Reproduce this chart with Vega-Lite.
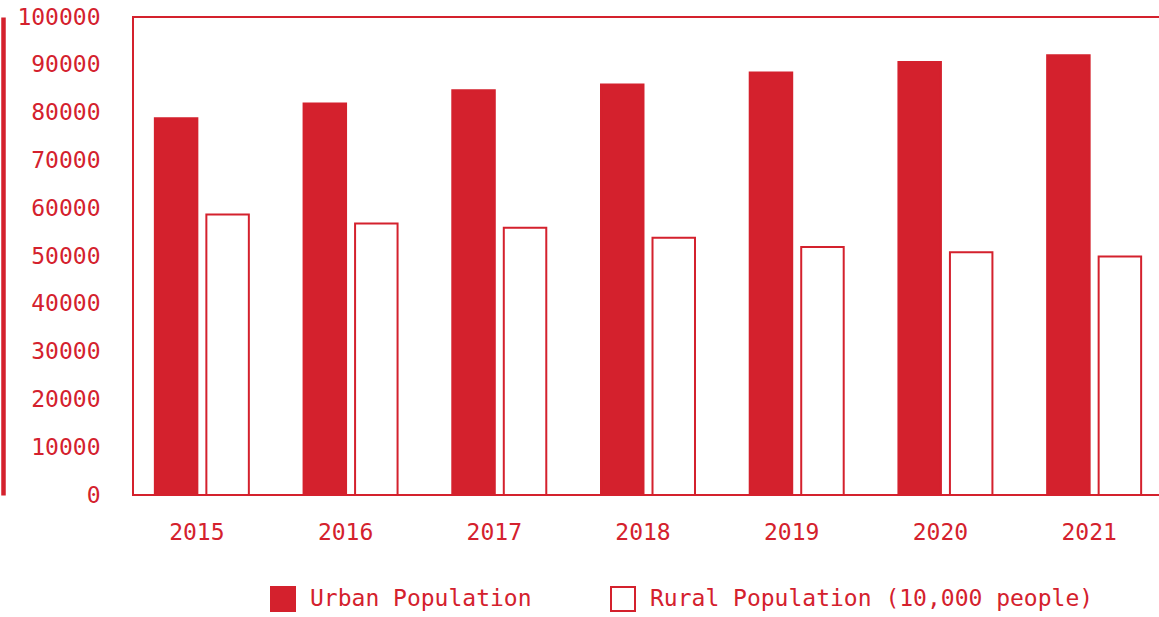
{
  "$schema": "https://vega.github.io/schema/vega-lite/v6.json",
  "width": 1030,
  "height": 478,
  "autosize": {"type": "none"},
  "padding": {"left": 133, "top": 17, "right": -4, "bottom": 122},
  "background": "#ffffff",
  "config": {
    "view": {"stroke": "#d4212d", "strokeWidth": 2},
    "font": "DejaVu Sans Mono"
  },
  "data": {
    "values": [
      {"year": "2015", "type": "Urban Population", "value": 78800},
      {"year": "2015", "type": "Rural Population (10,000 people)", "value": 58700},
      {"year": "2016", "type": "Urban Population", "value": 81900},
      {"year": "2016", "type": "Rural Population (10,000 people)", "value": 56800},
      {"year": "2017", "type": "Urban Population", "value": 84700},
      {"year": "2017", "type": "Rural Population (10,000 people)", "value": 55900},
      {"year": "2018", "type": "Urban Population", "value": 85900},
      {"year": "2018", "type": "Rural Population (10,000 people)", "value": 53800},
      {"year": "2019", "type": "Urban Population", "value": 88400},
      {"year": "2019", "type": "Rural Population (10,000 people)", "value": 51900},
      {"year": "2020", "type": "Urban Population", "value": 90600},
      {"year": "2020", "type": "Rural Population (10,000 people)", "value": 50800},
      {"year": "2021", "type": "Urban Population", "value": 92000},
      {"year": "2021", "type": "Rural Population (10,000 people)", "value": 49900}
    ]
  },
  "mark": {"type": "bar", "stroke": "#d4212d", "strokeWidth": 2},
  "encoding": {
    "x": {
      "field": "year",
      "type": "ordinal",
      "scale": {"paddingInner": 0.368, "paddingOuter": 0.147, "align": 0.5},
      "axis": {
        "title": null,
        "labelAngle": 0,
        "domain": false,
        "ticks": false,
        "tickSize": 0,
        "labelPadding": 26,
        "labelOffset": -5,
        "labelFont": "DejaVu Sans Mono",
        "labelFontSize": 23,
        "labelColor": "#d4212d"
      }
    },
    "xOffset": {
      "field": "type",
      "type": "nominal",
      "sort": ["Urban Population", "Rural Population (10,000 people)"],
      "scale": {"paddingInner": 0.175, "paddingOuter": 0}
    },
    "y": {
      "field": "value",
      "type": "quantitative",
      "scale": {"domain": [0, 100000], "nice": false},
      "axis": {
        "title": null,
        "values": [0, 10000, 20000, 30000, 40000, 50000, 60000, 70000, 80000, 90000, 100000],
        "format": "d",
        "grid": false,
        "ticks": false,
        "tickSize": 0,
        "domain": true,
        "domainColor": "#d4212d",
        "domainWidth": 4.5,
        "offset": 130,
        "labelPadding": -97,
        "labelFont": "DejaVu Sans Mono",
        "labelFontSize": 23,
        "labelColor": "#d4212d"
      }
    },
    "fill": {
      "field": "type",
      "type": "nominal",
      "sort": ["Urban Population", "Rural Population (10,000 people)"],
      "scale": {
        "domain": ["Urban Population", "Rural Population (10,000 people)"],
        "range": ["#d4212d", "#ffffff"]
      },
      "legend": {
        "title": null,
        "orient": "none",
        "direction": "horizontal",
        "legendX": 137,
        "legendY": 569,
        "symbolType": "square",
        "symbolSize": 576,
        "symbolStrokeColor": "#d4212d",
        "symbolStrokeWidth": 2,
        "labelFont": "DejaVu Sans Mono",
        "labelFontSize": 23,
        "labelColor": "#d4212d",
        "labelOffset": 14,
        "columnPadding": 75,
        "labelLimit": 0
      }
    }
  }
}
